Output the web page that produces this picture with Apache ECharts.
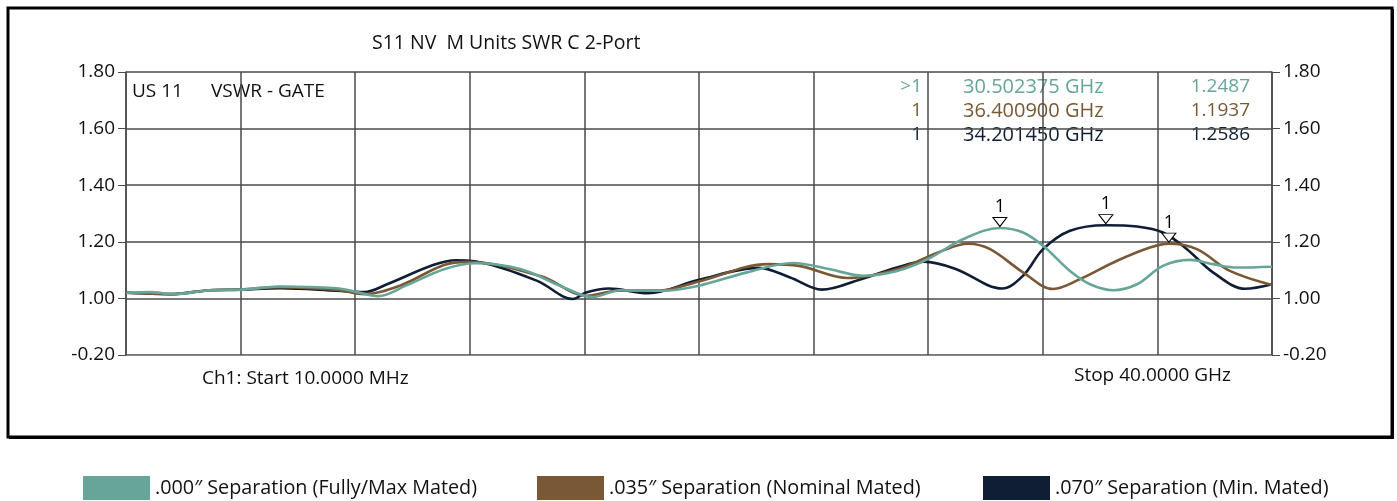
<!DOCTYPE html>
<html>
<head>
<meta charset="utf-8">
<script src="https://cdn.jsdelivr.net/npm/echarts@6/dist/echarts.min.js"></script>
<style>
html,body{margin:0;padding:0;background:#fff;}
#chart{width:1397px;height:501px;}
</style>
</head>
<body>
<div id="chart"></div>
<script>
// ---- DATA ----
const seriesNames = ['.000\u2033 Separation (Fully/Max Mated)', '.035\u2033 Separation (Nominal Mated)', '.070\u2033 Separation (Min. Mated)'];
const seriesColors = ['#68a599', '#795835', '#0f1e35'];

const tealFreq = [0.01, 0.84, 1.68, 2.93, 4.01, 5.38, 7.36, 7.99, 8.80, 9.77, 11.10, 12.18, 13.79, 15.15, 16.30, 17.24, 18.74, 20.00, 21.68, 23.28, 24.57, 25.72, 26.91, 27.99, 29.21, 30.50, 31.31, 32.01, 32.95, 33.65, 34.45, 35.29, 36.19, 37.14, 37.94, 38.78, 40.00];
const tealVals = [1.020, 1.022, 1.015, 1.029, 1.031, 1.042, 1.036, 1.024, 1.008, 1.045, 1.103, 1.124, 1.103, 1.045, 1.005, 1.029, 1.027, 1.045, 1.092, 1.125, 1.103, 1.080, 1.097, 1.139, 1.209, 1.2487, 1.233, 1.186, 1.097, 1.050, 1.029, 1.050, 1.115, 1.136, 1.121, 1.109, 1.112];

const brownFreq = [0.01, 1.54, 2.93, 4.01, 5.38, 7.36, 8.31, 9.56, 11.10, 11.94, 14.49, 16.09, 17.14, 18.64, 20.00, 22.41, 23.49, 25.20, 26.91, 28.48, 29.39, 30.16, 31.31, 32.36, 33.30, 34.59, 35.74, 36.40, 37.38, 38.53, 40.00];
const brownVals = [1.020, 1.015, 1.029, 1.031, 1.040, 1.030, 1.015, 1.045, 1.118, 1.129, 1.078, 1.009, 1.027, 1.028, 1.060, 1.121, 1.115, 1.072, 1.103, 1.168, 1.193, 1.174, 1.092, 1.033, 1.068, 1.133, 1.180, 1.1937, 1.174, 1.097, 1.047];

const navyFreq = [0.01, 1.54, 2.93, 4.01, 5.38, 7.36, 8.31, 9.11, 10.72, 11.52, 12.18, 14.35, 15.60, 16.06, 16.86, 18.22, 20.00, 22.09, 23.18, 24.29, 25.65, 26.91, 27.85, 28.94, 30.58, 31.31, 32.01, 32.95, 34.20, 35.29, 36.19, 37.03, 37.94, 39.06, 40.00];
const navyVals = [1.020, 1.015, 1.029, 1.031, 1.036, 1.027, 1.022, 1.050, 1.118, 1.135, 1.131, 1.062, 0.998, 1.021, 1.035, 1.018, 1.066, 1.108, 1.074, 1.031, 1.068, 1.109, 1.130, 1.105, 1.035, 1.080, 1.174, 1.239, 1.2586, 1.254, 1.233, 1.174, 1.092, 1.034, 1.050];

// markers: [prefix, frequency GHz, value]
const markerTeal = ['>1', 30.502375, 1.2487];
const markerBrown = ['1', 36.400900, 1.1937];
const markerNavy = ['1', 34.201450, 1.2586];

const yTickLabels = ['-0.20', '1.00', '1.20', '1.40', '1.60', '1.80'];
const titleText = 'S11 NV  M Units SWR C 2-Port';
const traceLabel = 'US 11';
const formatLabel = 'VSWR - GATE';
const startLabel = 'Ch1: Start 10.0000 MHz';
const stopLabel = 'Stop 40.0000 GHz';

// ---- CHART ----
const FONT = '"Open Sans", "Noto Sans", sans-serif';
const FS = 19;
const chart = echarts.init(document.getElementById('chart'), null, {renderer: 'canvas'});

function pairs(f, v) { return f.map((x, i) => [x, v[i]]); }
function mp(marker) {
  return {
    symbol: 'triangle', symbolRotate: 180, symbolSize: [14, 9], symbolOffset: [0, -6],
    itemStyle: {color: '#fff', borderColor: '#000', borderWidth: 1},
    label: {show: true, position: 'top', distance: 1, formatter: '1', color: '#000', fontSize: 18, fontFamily: FONT},
    data: [{coord: [marker[1], marker[2]], value: 1}]
  };
}

const yFmt = (v) => {
  const idx = Math.round((v - 0.8) / 0.2);
  return yTickLabels[idx] !== undefined ? yTickLabels[idx] : '';
};

const dataSets = [pairs(tealFreq, tealVals), pairs(brownFreq, brownVals), pairs(navyFreq, navyVals)];
const markers = [markerTeal, markerBrown, markerNavy];

const series = [0, 1, 2].map(i => ({
  name: seriesNames[i], type: 'line', data: dataSets[i], showSymbol: false, smooth: 0.35,
  lineStyle: {color: seriesColors[i], width: 2.6}, itemStyle: {color: seriesColors[i]},
  z: i === 0 ? 4 : (i === 1 ? 3 : 2),
  markPoint: mp(markers[i]), animation: false
}));

const legends = [83, 537, 983].map((l, i) => ({
  data: [seriesNames[i]], left: l, top: 476, padding: 0, icon: 'rect', itemWidth: 67, itemHeight: 24, itemGap: 5,
  textStyle: {fontSize: 19.8, color: '#111', fontFamily: FONT, padding: [5, 0, 0, 0]}, selectedMode: false
}));

const tableRowsY = [87, 111, 135];
const txt = (x, y, s, extra) => ({type: 'text', x: x, y: y, style: Object.assign({text: s, fontSize: FS, fill: '#111', fontFamily: FONT, textVerticalAlign: 'middle'}, extra || {})});
const graphics = [
  {type: 'rect', shape: {x: 8, y: 8, width: 1384, height: 429}, style: {fill: 'none', stroke: '#000', lineWidth: 3}, silent: true},
  {type: 'line', shape: {x1: 1393, y1: 9, x2: 1393, y2: 439}, style: {stroke: '#000', lineWidth: 2}},
  {type: 'line', shape: {x1: 9, y1: 438, x2: 1394, y2: 438}, style: {stroke: '#000', lineWidth: 2}},
  txt(372, 43, titleText, {fontSize: 19.5}),
  txt(132, 92, traceLabel),
  txt(211, 92, formatLabel),
  txt(202, 379, startLabel),
  txt(1074, 376, stopLabel)
];
markers.forEach((m, i) => {
  const y = tableRowsY[i];
  const col = seriesColors[i];
  graphics.push(txt(922, y, m[0], {fill: col, textAlign: 'right'}));
  graphics.push(txt(963, y, m[1].toFixed(6) + ' GHz', {fill: col, textAlign: 'left', fontSize: 20}));
  graphics.push(txt(1250, y, m[2].toFixed(4), {fill: col, textAlign: 'right'}));
});

const gridLine = {show: true, lineStyle: {color: '#4a4a4a', width: 1.5}};
const yAxisCommon = {
  type: 'value', min: 0.8, max: 1.8, interval: 0.2,
  axisLine: {show: true, lineStyle: {color: '#4a4a4a', width: 1.5}},
  axisTick: {show: true, length: 8, lineStyle: {color: '#4a4a4a', width: 1}},
  axisLabel: {formatter: yFmt, fontSize: FS, color: '#111', fontFamily: FONT, margin: 11},
  splitLine: gridLine
};

chart.setOption({
  animation: false,
  backgroundColor: '#fff',
  grid: {left: 126, right: 125, top: 72, bottom: 146, containLabel: false},
  xAxis: {
    type: 'value', min: 0, max: 40, interval: 4,
    axisLine: {show: true, lineStyle: {color: '#888', width: 1}},
    axisTick: {show: false}, axisLabel: {show: false},
    splitLine: gridLine
  },
  yAxis: [
    Object.assign({position: 'left'}, yAxisCommon),
    Object.assign({position: 'right'}, yAxisCommon, {splitLine: {show: false}})
  ],
  legend: legends,
  series: series,
  graphic: graphics
});
</script>
</body>
</html>
